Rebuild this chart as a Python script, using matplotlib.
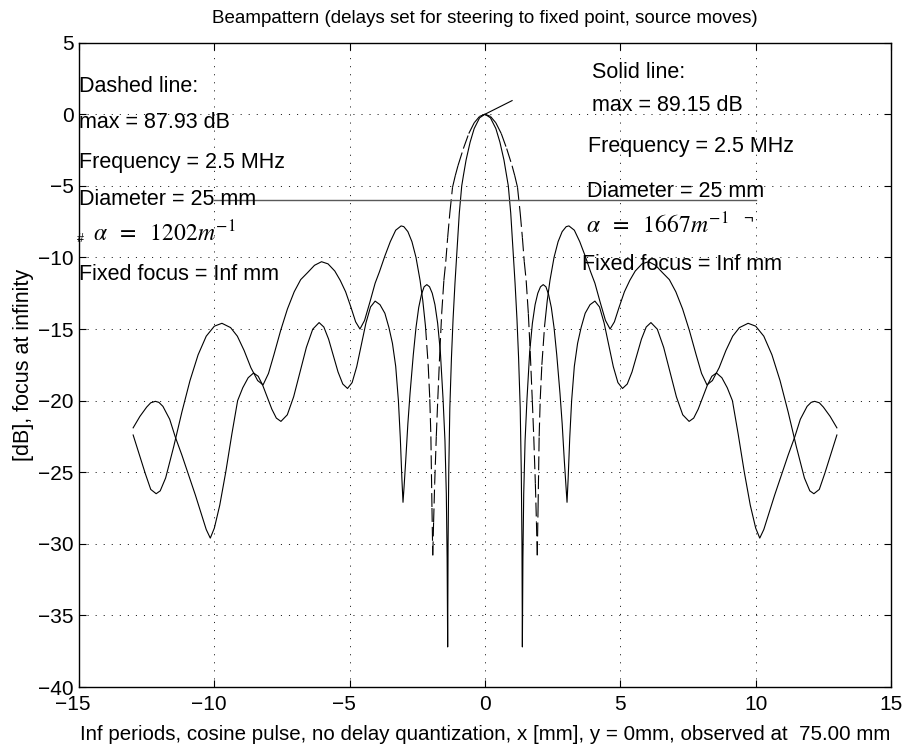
import numpy as np
import matplotlib
matplotlib.use('Agg')
import matplotlib.pyplot as plt
from matplotlib.collections import LineCollection
from matplotlib.transforms import ScaledTranslation

plt.rcParams['font.family'] = ['Liberation Sans', 'DejaVu Sans']
plt.rcParams['mathtext.fontset'] = 'stix'
plt.rcParams['lines.scale_dashes'] = False

# right half of the symmetric beampatterns (x in mm, level in dB)
solid_x = [0, 0.2, 0.4, 0.55, 0.7, 0.8, 0.86, 0.95, 1.035, 1.11, 1.18, 1.24, 1.30, 1.34, 1.365, 1.38,
           1.40, 1.43, 1.48, 1.55, 1.65, 1.75, 1.85, 1.95, 2.05, 2.15, 2.25, 2.35, 2.45, 2.55, 2.65, 2.77,
           2.85, 2.93, 2.99, 3.03,
           3.07, 3.13, 3.2, 3.3, 3.42, 3.55, 3.7, 3.88, 4.06,
           4.23, 4.40, 4.57, 4.74, 4.91, 5.08,
           5.255, 5.43, 5.605, 5.78, 5.955, 6.13,
           6.365, 6.60, 6.835, 7.07, 7.305, 7.54,
           7.71, 7.875, 8.045, 8.215, 8.38, 8.55,
           8.75, 8.95, 9.14, 9.35, 9.58, 9.8, 10.0, 10.15,
           10.3, 10.5, 10.7, 10.95, 11.2, 11.45, 11.65, 11.9, 12.05, 12.18, 12.35, 12.5, 12.75, 13.0]
solid_db = [0, -0.25, -1.0, -1.95, -3.2, -4.3, -5.0, -6.9, -9.5, -11.8, -14.3, -17.0, -20.5, -25.0, -30.0, -37.2,
            -31.0, -26.5, -22.8, -19.9, -16.6, -14.6, -13.3, -12.5, -12.05, -11.9, -12.05, -12.6, -13.5, -14.9, -16.8, -19.5,
            -21.6, -24.2, -26.0, -27.1,
            -25.5, -22.6, -20.0, -17.6, -16.0, -14.9, -13.9, -13.3, -13.05,
            -13.46, -14.58, -16.1, -17.63, -18.74, -19.15,
            -18.84, -18.0, -16.85, -15.7, -14.86, -14.55,
            -15.01, -16.28, -18.0, -19.73, -20.99, -21.45,
            -21.22, -20.6, -19.76, -18.92, -18.3, -18.07,
            -18.4, -19.1, -20.0, -22.3, -25.0, -27.3, -28.9, -29.6,
            -29.0, -27.8, -26.6, -25.2, -23.8, -22.5, -21.3, -20.4, -20.12, -20.05, -20.15, -20.45, -21.1, -21.9]

dashed_x = [0, 0.2, 0.4, 0.6, 0.8, 1.0, 1.1, 1.2, 1.3, 1.38, 1.45, 1.52, 1.6, 1.67, 1.745, 1.8, 1.86, 1.9, 1.93,
            1.96, 2.0, 2.04, 2.1, 2.2, 2.3, 2.4, 2.55, 2.7, 2.85, 3.0, 3.1, 3.3, 3.5, 3.7, 3.9, 4.06, 4.25, 4.45, 4.62,
            4.78, 4.95, 5.15, 5.35, 5.55, 5.8, 6.04, 6.3, 6.55, 6.81, 7.05, 7.3, 7.55, 7.8, 8.0, 8.2, 8.4, 8.65,
            8.9, 9.15, 9.4, 9.72, 10.0, 10.3, 10.6, 10.9, 11.2, 11.5, 11.8, 12.0, 12.15, 12.35, 12.55, 12.8, 13.0]
dashed_db = [0, -0.15, -0.6, -1.35, -2.4, -3.6, -4.3, -5.1, -6.9, -8.6, -10.3, -11.6, -13.9, -16.6, -19.9, -22.5, -25.8, -28.5, -30.8,
             -27.5, -22.5, -19.9, -17.5, -14.8, -13.0, -11.6, -10.0, -8.9, -8.2, -7.85, -7.8, -8.1, -8.9, -9.9, -11.0, -11.8, -13.1, -14.4, -15.0,
             -14.5, -13.5, -12.4, -11.6, -10.95, -10.45, -10.3, -10.55, -11.05, -11.55, -12.4, -13.6, -15.1, -16.8, -18.1, -18.9, -18.6, -17.7,
             -16.5, -15.5, -14.9, -14.6, -14.8, -15.5, -16.8, -18.6, -20.8, -23.2, -25.4, -26.3, -26.5, -26.2, -25.1, -23.6, -22.4]

left_text = ['Dashed line:', 'max = 87.93 dB', 'Frequency = 2.5 MHz', 'Diameter = 25 mm', r'$\alpha\;\ =\;\ 1202m^{-1}$', 'Fixed focus = Inf mm']
left_tx = [-15, -15, -15, -15, -14.48, -15]
left_ty = [1.55, -0.96, -3.77, -6.33, -8.89, -11.56]
right_text = ['Solid line:', 'max = 89.15 dB', 'Frequency = 2.5 MHz', 'Diameter = 25 mm', r'$\alpha\;\ =\;\ 1667m^{-1}$', 'Fixed focus = Inf mm']
right_tx = [3.97, 3.94, 3.79, 3.75, 3.72, 3.57]
right_ty = [2.51, 0.25, -2.61, -5.75, -8.3, -10.87]

ref_level = -6
ref_x = [-10, 10]
slope_x = [0, 1.0]
slope_y = [0, 0.95]

# the dashed pattern only shows where the curve is steep (around the main lobe)
dash_zone = 2.2


def full(xh, yh):
    xh = np.array(xh)
    yh = np.array(yh)
    return np.concatenate((-xh[::-1], xh[1:])), np.concatenate((yh[::-1], yh[1:]))


fig = plt.figure(figsize=(9.22, 7.45), dpi=100)
ax = fig.add_axes([0.0857, 0.0778, 0.8807, 0.865])

xs, ys = full(solid_x, solid_db)
ax.plot(xs, ys, color='k', lw=0.8)

xd, yd = full(dashed_x, dashed_db)
inner = np.abs(xd) <= dash_zone + 1e-9
pts = np.column_stack((xd[inner], yd[inner]))
segs = np.stack((pts[:-1], pts[1:]), axis=1)
ax.add_collection(LineCollection(segs, colors='k', linewidths=0.8, linestyles=[(0, (10, 3.6))]))
ax.plot(xd[xd <= -dash_zone + 1e-9], yd[xd <= -dash_zone + 1e-9], color='k', lw=0.8)
ax.plot(xd[xd >= dash_zone - 1e-9], yd[xd >= dash_zone - 1e-9], color='k', lw=0.8)

ax.plot(ref_x, [ref_level, ref_level], color='0.35', lw=1.0)
ax.plot(slope_x, slope_y, color='k', lw=0.8)

for t, x, y in zip(left_text, left_tx, left_ty):
    fs = 17 if t.startswith('$') else 15.5
    ax.text(x, y, t, fontsize=fs, va='baseline', ha='left')
for t, x, y in zip(right_text, right_tx, right_ty):
    fs = 17 if t.startswith('$') else 15.5
    ax.text(x, y, t, fontsize=fs, va='baseline', ha='left')
ax.text(-15.07, -8.95, '#', fontsize=9, va='baseline', ha='left')
ax.text(9.55, -7.6, '¬', fontsize=12, va='baseline', ha='left')

ax.set_xlim(-15, 15)
ax.set_ylim(-40, 5)
ax.set_xticks(range(-15, 16, 5))
ax.set_yticks(range(-40, 6, 5))
ax.tick_params(direction='in', top=True, right=True, length=5, width=0.8, labelsize=15)
ax.tick_params(axis='x', pad=6)
ax.tick_params(axis='y', pad=4)
ax.grid(True, color='k', linestyle=(0, (0.8, 5)), linewidth=0.6)
for s in ax.spines.values():
    s.set_linewidth(1.0)

ax.set_title('Beampattern (delays set for steering to fixed point, source moves)', fontsize=13.5, pad=14)
ax.set_xlabel('Inf periods, cosine pulse, no delay quantization, x [mm], y = 0mm, observed at  75.00 mm', fontsize=14.8, labelpad=8)
ax.set_ylabel('[dB], focus at infinity', fontsize=15.5, labelpad=3)

fig.canvas.draw()
for lab in ax.get_xticklabels():
    if lab.get_text().startswith('\u2212'):
        lab.set_transform(lab.get_transform() + ScaledTranslation(-0.06, 0, fig.dpi_scale_trans))

fig.savefig('out.png', dpi=100)
